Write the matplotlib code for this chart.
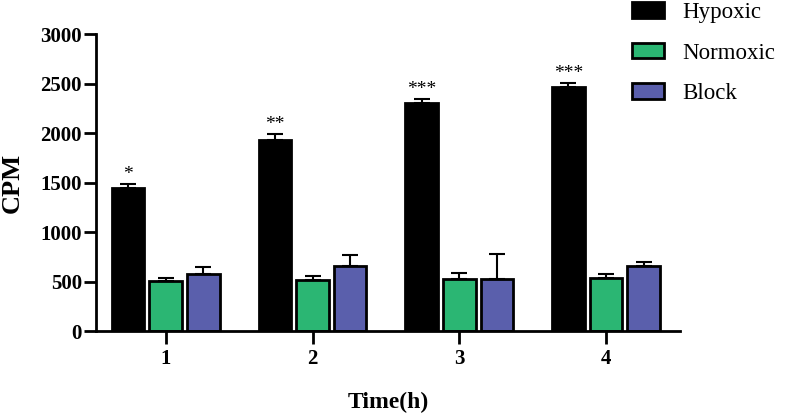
import numpy as np
import matplotlib
matplotlib.use('Agg')
import matplotlib.pyplot as plt

#%% data
times = ['1', '2', '3', '4']
hypoxic = [1447, 1935, 2305, 2464]
hypoxic_err = [41, 55, 41, 38]
normoxic = [505, 515, 525, 535]
normoxic_err = [32, 45, 58, 42]
block = [580, 655, 530, 655]
block_err = [65, 115, 250, 45]
stars = ['*', '**', '***', '***']

#%%
plt.rcParams['font.family'] = ['Liberation Serif', 'DejaVu Serif']

fig = plt.figure(figsize=(7.86, 4.16), dpi=100)
ax = fig.add_axes([0.122, 0.204, 0.743, 0.714])

x = np.arange(1, len(times) + 1)
w = 0.222
off = 0.256
kw = dict(edgecolor='black', linewidth=2, capsize=6,
          error_kw=dict(elinewidth=1.5, capthick=1.5, ecolor='black'))

ax.bar(x - off, hypoxic, w, yerr=[np.zeros(4), hypoxic_err], color='black', label='Hypoxic', **kw)
ax.bar(x, normoxic, w, yerr=[np.zeros(4), normoxic_err], color='#2bb673', label='Normoxic', **kw)
ax.bar(x + off, block, w, yerr=[np.zeros(4), block_err], color='#5a5fac', label='Block', **kw)

for xi, h, e, s in zip(x, hypoxic, hypoxic_err, stars):
    ax.text(xi - off, h + e + 10, s, ha='center', va='bottom', fontsize=14)

ax.set_xlim(0.524, 4.503)
ax.set_ylim(0, 3000)
ax.set_yticks(range(0, 3001, 500))
ax.set_xticks(x)
ax.set_xticklabels(times)
for lab in ax.get_xticklabels() + ax.get_yticklabels():
    lab.set_fontweight('bold')
    lab.set_fontsize(15)
ax.tick_params(width=2, length=9, direction='out')
ax.tick_params(axis='x', pad=4)
ax.tick_params(axis='y', pad=1)
for sp in ['top', 'right']:
    ax.spines[sp].set_visible(False)
for sp in ['left', 'bottom']:
    ax.spines[sp].set_linewidth(2)

ax.set_ylabel('CPM', fontsize=19, fontweight='bold', labelpad=12)
ax.set_xlabel('Time(h)', fontsize=17, fontweight='bold', labelpad=16)

fig.legend(loc='upper left', bbox_to_anchor=(0.804, 0.995), frameon=False, fontsize=16.5,
           borderpad=0, borderaxespad=0, handlelength=1.4, handleheight=0.66,
           labelspacing=0.85, handletextpad=0.78)

fig.savefig('out.png', dpi=100)
